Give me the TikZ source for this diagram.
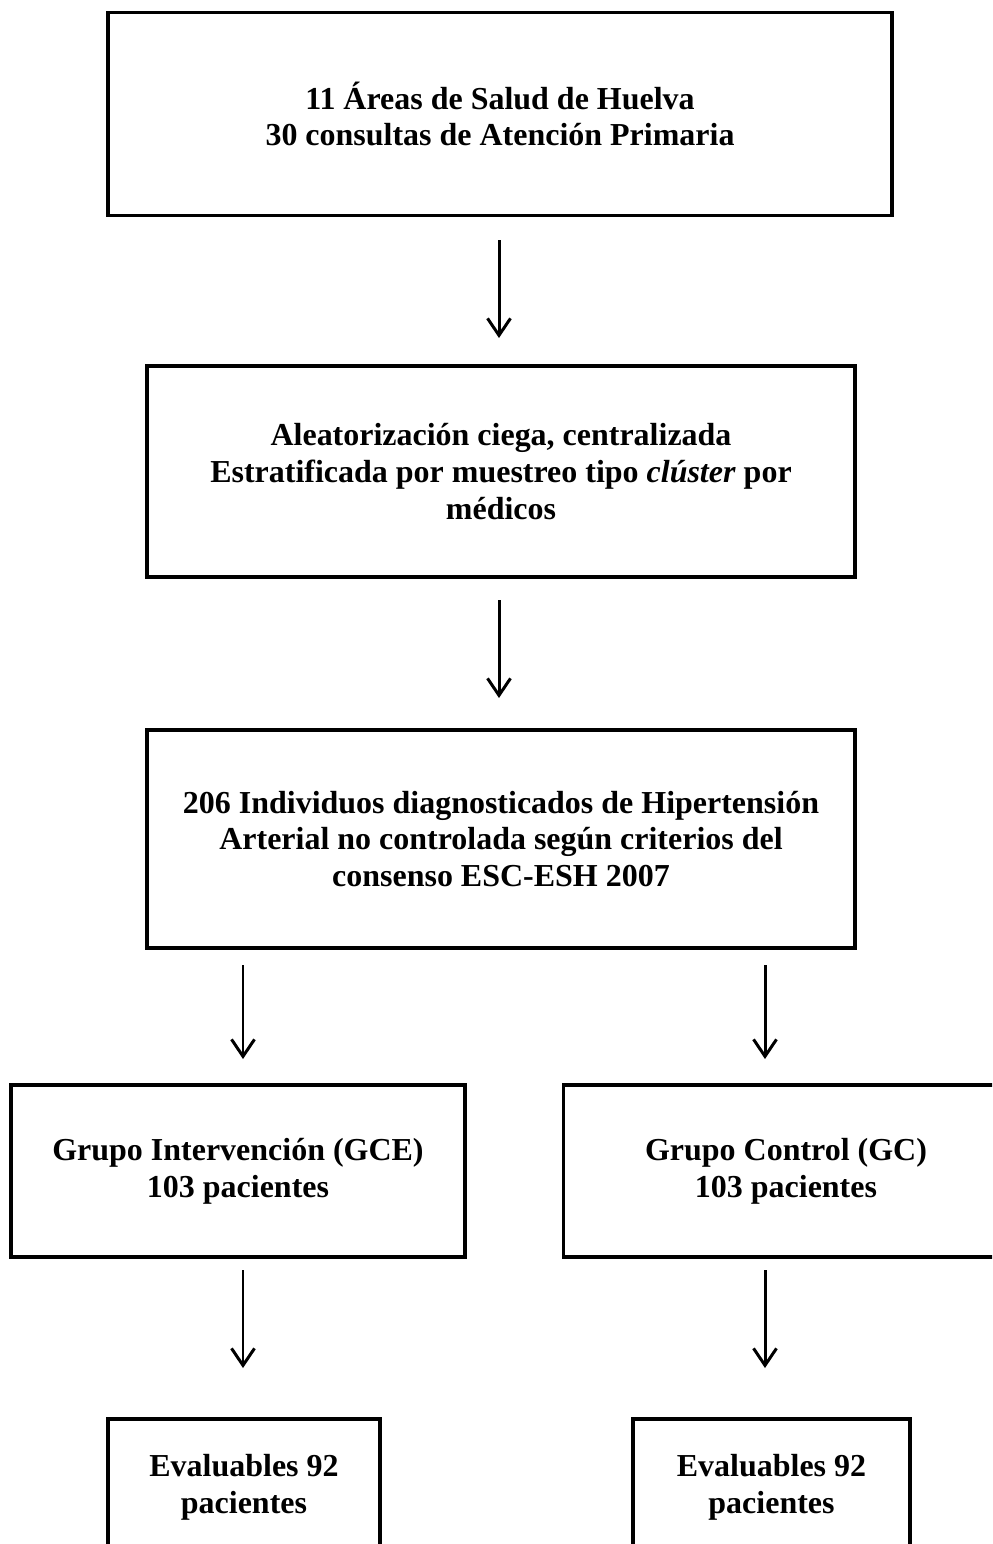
\documentclass[tikz,border=0pt]{standalone}
\usepackage{fontspec}
\setmainfont{Liberation Serif}
\usetikzlibrary{arrows.meta}
\begin{document}
\begin{tikzpicture}[x=0.02cm,y=-0.02cm,
  box/.style={draw=black, line width=1.8pt, rectangle, inner sep=0pt,
    font=\fontsize{18.2}{21}\selectfont\bfseries, align=center},
  flow/.style={line width=1.7pt, -{Straight Barb[length=0.34cm,width=0.46cm,line width=1.7pt]}}]
  % canvas
  \clip (0,0) rectangle (992,1544);
  \fill[white] (0,0) rectangle (992,1544);

  % boxes
  \node[box, minimum width=15.68cm, minimum height=4.06cm] (b1) at (500,114)
    {11 Áreas de Salud de Huelva\\30 consultas de Atención Primaria};
  \node[box, minimum width=14.16cm, minimum height=4.22cm] (b2) at (501,471.5)
    {Aleatorización ciega, centralizada\\Estratificada por muestreo tipo \textit{clúster} por\\médicos};
  \node[box, minimum width=14.16cm, minimum height=4.36cm] (b3) at (501,839)
    {206 Individuos diagnosticados de Hipertensión\\Arterial no controlada según criterios del\\consenso ESC-ESH 2007};
  \node[box, minimum width=9.08cm, minimum height=3.44cm] (g1) at (238,1171)
    {Grupo Intervención (GCE)\\103 pacientes};
  \node[box, minimum width=8.9cm, minimum height=3.44cm] (g2) at (786,1171)
    {Grupo Control (GC)\\103 pacientes};
  \node[box, minimum width=5.44cm, minimum height=2.74cm] (e1) at (244,1487.5)
    {Evaluables 92\\pacientes};
  \node[box, minimum width=5.54cm, minimum height=2.74cm] (e2) at (771.5,1487.5)
    {Evaluables 92\\pacientes};

  % arrow end points
  \coordinate (a1s) at (499,240);  \coordinate (a1e) at (499,338);
  \coordinate (a2s) at (499,600);  \coordinate (a2e) at (499,698);
  \coordinate (a3s) at (243,965);  \coordinate (a3e) at (243,1059);
  \coordinate (a4s) at (765,965);  \coordinate (a4e) at (765,1059);
  \coordinate (a5s) at (243,1270); \coordinate (a5e) at (243,1368);
  \coordinate (a6s) at (765,1270); \coordinate (a6e) at (765,1368);

  % connectors
  \draw[flow] (a1s) -- (a1e);
  \draw[flow] (a2s) -- (a2e);
  \draw[flow] (a3s) -- (a3e);
  \draw[flow] (a4s) -- (a4e);
  \draw[flow] (a5s) -- (a5e);
  \draw[flow] (a6s) -- (a6e);
\end{tikzpicture}
\end{document}
